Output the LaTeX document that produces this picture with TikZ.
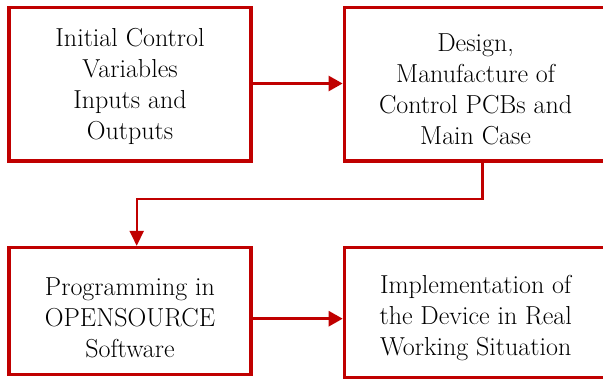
\documentclass[tikz,border=0pt]{standalone}
\usepackage{fontspec}
\usetikzlibrary{arrows.meta}
\definecolor{flowred}{RGB}{192,0,0}
\tikzset{
  stagebox/.style={draw=flowred, line width=3.3pt, rectangle, inner sep=0pt},
  stagetext/.style={align=center, font=\fontsize{26}{31}\selectfont, inner sep=0pt},
  flowarrow/.style={draw=flowred, line width=2.7pt, -{Triangle[length=14pt,width=15pt]}},
  loopline/.style={draw=flowred, line width=2.2pt, -{Triangle[length=15pt,width=14pt]}},
}
\begin{document}
\begin{tikzpicture}[x=1pt,y=-1pt]
  \useasboundingbox (0,0) rectangle (603,379);
  \clip (0,0) rectangle (603,379);
  \fill[white] (0,0) rectangle (603,379);

  % the four stages
  \node[stagebox, minimum width=242pt, minimum height=153.8pt] (b1) at (130,84.2) {};
  \node[stagebox, minimum width=262.7pt, minimum height=153.8pt] (b2) at (475.6,84.2) {};
  \node[stagebox, minimum width=242pt, minimum height=127pt] (b3) at (130,311) {};
  \node[stagebox, minimum width=262.7pt, minimum height=130pt] (b4) at (475.7,312.5) {};

  \node[stagetext] (t1) at ([yshift=-2.3pt]b1.center) {Initial Control\\Variables\\Inputs and\\Outputs};
  \node[stagetext] (t2) at ([yshift=-5pt]b2.center) {Design,\\Manufacture of\\Control PCBs and\\Main Case};
  \node[stagetext] (t3) at ([yshift=-6.7pt]b3.center) {Programming in\\OPENSOURCE\\Software};
  \node[stagetext] (t4) at ([yshift=-5.3pt]b4.center) {Implementation of\\the Device in Real\\Working Situation};

  % connectors
  \coordinate (r1) at (0,83.5);
  \coordinate (r2) at (0,318.7);
  \draw[flowarrow] (b1.east |- r1) -- (b2.west |- r1);
  \draw[flowarrow] (b3.east |- r2) -- (b4.west |- r2);

  \coordinate (k1) at (482.5,198.7);
  \coordinate (k2) at (136.7,198.7);
  \draw[loopline] (b2.south -| k1) -- (k1) -- (k2) -- (b3.north -| k2);
\end{tikzpicture}
\end{document}
